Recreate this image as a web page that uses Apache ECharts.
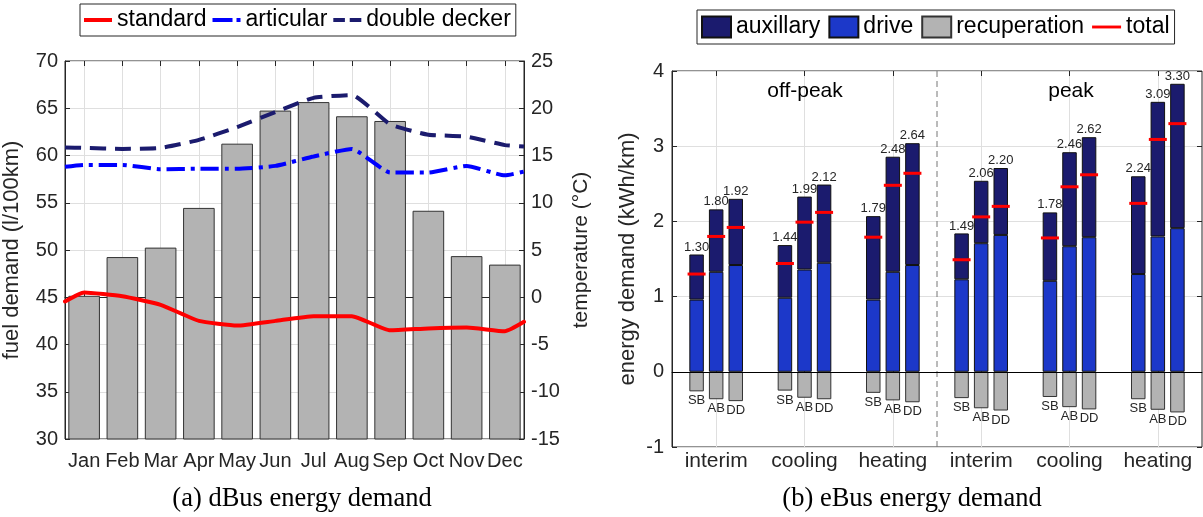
<!DOCTYPE html>
<html><head><meta charset="utf-8">
<script src="https://cdn.jsdelivr.net/npm/echarts@6/dist/echarts.min.js"></script>
<style>html,body{margin:0;padding:0;background:#fff}#c{width:1203px;height:517px}</style>
</head><body><div id="c"></div><script>
// ---------- (a) dBus data ----------
const months = ['Jan','Feb','Mar','Apr','May','Jun','Jul','Aug','Sep','Oct','Nov','Dec'];
const temperature = [0.1, 4.2, 5.2, 9.4, 16.2, 19.7, 20.6, 19.1, 18.6, 9.1, 4.3, 3.4];
const standard = [45.5, 45.1, 44.2, 42.5, 42.0, 42.5, 43.0, 43.0, 41.5, 41.7, 41.8, 41.4];
const standardEdges = [44.55, 42.4];
const articular = [59.0, 59.0, 58.55, 58.6, 58.6, 58.9, 59.9, 60.7, 58.2, 58.2, 58.9, 57.9];
const articularEdges = [58.8, 58.3];
const doubleDecker = [60.8, 60.7, 60.8, 61.65, 63.0, 64.6, 66.1, 66.4, 63.3, 62.2, 62.0, 61.1];
const doubleDeckerEdges = [60.85, 60.95];
const fuelTicks = {min: 30, max: 70, step: 5};
const tempTicks = {min: -15, max: 25, step: 5};

// ---------- (b) eBus data ----------
const periods = ['off-peak', 'peak'];
const groups = ['interim', 'cooling', 'heating'];
const busTypes = ['SB', 'AB', 'DD'];
const driveSB = [0.96, 0.985, 0.96, 1.23, 1.21, 1.30];
const driveAB = [1.33, 1.36, 1.33, 1.71, 1.67, 1.80];
const driveDD = [1.42, 1.45, 1.42, 1.82, 1.79, 1.91];
const auxSB = [0.60, 0.70, 1.11, 0.61, 0.91, 1.30];
const auxAB = [0.83, 0.97, 1.53, 0.83, 1.25, 1.79];
const auxDD = [0.88, 1.04, 1.62, 0.89, 1.33, 1.92];
const recupSB = [-0.26, -0.25, -0.28, -0.35, -0.335, -0.365];
const recupAB = [-0.365, -0.345, -0.38, -0.485, -0.47, -0.505];
const recupDD = [-0.39, -0.365, -0.405, -0.515, -0.50, -0.54];
const totalSB = [1.30, 1.44, 1.79, 1.49, 1.78, 2.24];
const totalAB = [1.80, 1.99, 2.48, 2.06, 2.46, 3.09];
const totalDD = [1.92, 2.12, 2.64, 2.20, 2.62, 3.30];
const energyTicks = {min: -1, max: 4, step: 1};

// ---------- build ----------
const categories = [];
periods.forEach(p => groups.forEach(g => categories.push(p + '|' + g)));
const dividerAt = groups.length;
const drive = {SB: driveSB, AB: driveAB, DD: driveDD};
const aux = {SB: auxSB, AB: auxAB, DD: auxDD};
const recup = {SB: recupSB, AB: recupAB, DD: recupDD};
const total = {SB: totalSB, AB: totalAB, DD: totalDD};

const FONT = '"Liberation Sans", Arial, Helvetica, sans-serif';
const SERIF = '"Liberation Serif", "Times New Roman", serif';
const AX = '#262626';
const GRIDC = '#dfdfdf';
const NAVY = '#1b1b6e';
const BLUE = '#1c38c9';
const GRAY = '#b3b3b3';

function edgeLine(vals, edges) {
  return [[0, edges[0]]].concat(vals.map((v, i) => [i + 0.5, v])).concat([[vals.length, edges[1]]]);
}

const tick = {show: true, inside: true, length: 5, interval: 0, lineStyle: {color: AX}};
const lbl = (m) => ({color: AX, fontSize: 20, fontFamily: FONT, margin: m});

const series = [];
series.push({
  type: 'custom', name: 'temperature', xAxisIndex: 0, yAxisIndex: 1, z: 1,
  data: temperature.map((t, i) => [i, t]),
  renderItem(params, api) {
    const i = api.value(0), t = api.value(1);
    const top = api.coord([i, t]);
    const base = api.coord([i, tempTicks.min]);
    const w = api.size([1, 0])[0] * 0.8;
    return {type: 'rect', shape: {x: top[0] - w / 2, y: top[1], width: w, height: base[1] - top[1]},
      style: {fill: GRAY, stroke: '#333', lineWidth: 1}};
  }
});
const lineCommon = {type: 'line', xAxisIndex: 1, yAxisIndex: 0, symbol: 'none', smooth: 0.15, z: 3};
series.push(Object.assign({}, lineCommon, {name: 'standard', data: edgeLine(standard, standardEdges),
  lineStyle: {color: '#ff0000', width: 4, cap: 'round'}, itemStyle: {color: '#ff0000'}}));
series.push(Object.assign({}, lineCommon, {name: 'articular', data: edgeLine(articular, articularEdges),
  lineStyle: {color: '#0000ff', width: 4, type: [18, 6, 4, 6]}, itemStyle: {color: '#0000ff'}}));
series.push(Object.assign({}, lineCommon, {name: 'double decker', data: edgeLine(doubleDecker, doubleDeckerEdges),
  lineStyle: {color: NAVY, width: 4, type: [16, 9]}, itemStyle: {color: NAVY}}));

const barCommon = {type: 'bar', xAxisIndex: 3, yAxisIndex: 2, barWidth: 14.5, barGap: '35%', z: 2};
busTypes.forEach((k, idx) => {
  const s = Object.assign({}, barCommon, {name: 'drive', stack: k, data: drive[k],
    itemStyle: {color: BLUE, borderColor: '#111', borderWidth: 1}});
  if (idx === 0) {
    s.markLine = {silent: true, symbol: 'none', label: {show: false}, animation: false,
      lineStyle: {color: '#000', width: 1, type: 'solid'}, data: [{yAxis: 0}]};
  }
  series.push(s);
});
busTypes.forEach(k => series.push(Object.assign({}, barCommon, {name: 'auxillary', stack: k, data: aux[k],
  itemStyle: {color: NAVY, borderColor: '#111', borderWidth: 1},
  label: {show: true, position: 'top', distance: 1, fontSize: 13, fontFamily: FONT, color: AX,
    formatter: p => total[k][p.dataIndex].toFixed(2)}})));
busTypes.forEach(k => series.push(Object.assign({}, barCommon, {name: 'recuperation', stack: k, data: recup[k],
  itemStyle: {color: GRAY, borderColor: '#333', borderWidth: 1},
  label: {show: true, position: 'bottom', distance: 3, fontSize: 13, fontFamily: FONT, color: AX, formatter: k}})));
busTypes.forEach(k => series.push({type: 'pictorialBar', name: 'total', xAxisIndex: 3, yAxisIndex: 2,
  barWidth: 14.5, barGap: '35%', data: total[k], symbol: 'rect', symbolSize: [18, 3], symbolPosition: 'end',
  symbolOffset: [0, '-50%'], itemStyle: {color: '#ff0000'}, z: 4}));
series.push({type: 'line', name: 'divider', xAxisIndex: 4, yAxisIndex: 2, symbol: 'none', z: 1, silent: true,
  data: [[dividerAt, energyTicks.min], [dividerAt, energyTicks.max]],
  lineStyle: {color: '#777', width: 1, type: [6, 4]}});

const legendText = {fontSize: 23, color: '#000', fontFamily: FONT, lineHeight: 26};
const option = {
  animation: false,
  backgroundColor: '#fff',
  textStyle: {fontFamily: FONT},
  grid: [
    {left: 64, top: 61, width: 460, height: 378, show: true, borderColor: AX, borderWidth: 1},
    {left: 672, top: 71, width: 530, height: 376, show: true, borderColor: AX, borderWidth: 1}
  ],
  legend: [
    {data: [{name: 'standard', icon: 'path://M0,0H28V4H0Z'},
            {name: 'articular', icon: 'path://M0,0H20V4H0Z M24,0H28V4H24Z'},
            {name: 'double decker', icon: 'path://M0,0H12V4H0Z M17,0H29V4H17Z'}],
      left: 80, top: 4, itemWidth: 28, itemHeight: 14, itemGap: 6,
      textStyle: legendText, borderColor: AX, borderWidth: 1,
      padding: [3, 5, 3, 4], backgroundColor: '#fff', selectedMode: false},
    {data: [{name: 'auxillary', icon: 'rect'}, {name: 'drive', icon: 'rect'}, {name: 'recuperation', icon: 'rect'},
            {name: 'total', icon: 'path://M0,0H30V3H0Z'}],
      left: 697, top: 10, itemWidth: 29, itemHeight: 21, itemGap: 8,
      textStyle: legendText, borderColor: AX, borderWidth: 1,
      padding: [4, 5, 4, 4], backgroundColor: '#fff', selectedMode: false}
  ],
  xAxis: [
    {type: 'category', gridIndex: 0, data: months, boundaryGap: true, position: 'bottom',
      axisLine: {lineStyle: {color: AX}}, axisTick: Object.assign({alignWithLabel: true}, tick),
      axisLabel: Object.assign(lbl(12), {interval: 0}),
      splitLine: {show: true, interval: 0, alignWithLabel: true, lineStyle: {color: GRIDC}}},
    {type: 'value', gridIndex: 0, min: 0, max: months.length, show: false},
    {type: 'category', gridIndex: 0, data: months, position: 'top', axisLine: {show: false},
      axisTick: Object.assign({alignWithLabel: true}, tick), axisLabel: {show: false}, splitLine: {show: false}},
    {type: 'category', gridIndex: 1, data: categories, boundaryGap: true, position: 'bottom',
      axisLine: {lineStyle: {color: AX}}, axisTick: Object.assign({alignWithLabel: true}, tick),
      axisLabel: Object.assign(lbl(4), {fontSize: 21, interval: 0, formatter: v => v.split('|')[1]}),
      splitLine: {show: true, interval: 0, alignWithLabel: true, lineStyle: {color: GRIDC}}},
    {type: 'value', gridIndex: 1, min: 0, max: categories.length, show: false},
    {type: 'category', gridIndex: 1, data: categories, position: 'top', axisLine: {show: false},
      axisTick: Object.assign({alignWithLabel: true}, tick), axisLabel: {show: false}, splitLine: {show: false}}
  ],
  yAxis: [
    {type: 'value', gridIndex: 0, position: 'left', min: fuelTicks.min, max: fuelTicks.max, interval: fuelTicks.step,
      axisLine: {show: true, lineStyle: {color: AX}}, axisTick: tick, axisLabel: lbl(7),
      splitLine: {show: true, lineStyle: {color: GRIDC}},
      name: 'fuel demand (l/100km)', nameLocation: 'middle', nameRotate: 90, nameGap: 42,
      nameTextStyle: {fontSize: 22, color: AX, fontFamily: FONT}},
    {type: 'value', gridIndex: 0, position: 'right', min: tempTicks.min, max: tempTicks.max, interval: tempTicks.step,
      axisLine: {show: true, lineStyle: {color: AX}}, axisTick: tick, axisLabel: lbl(7), splitLine: {show: false},
      name: 'temperature (°C)', nameLocation: 'middle', nameRotate: 90, nameGap: 47,
      nameTextStyle: {fontSize: 21, color: AX, fontFamily: FONT}},
    {type: 'value', gridIndex: 1, position: 'left', min: energyTicks.min, max: energyTicks.max, interval: energyTicks.step,
      axisLine: {show: true, lineStyle: {color: AX}}, axisTick: tick, axisLabel: lbl(8),
      splitLine: {show: true, lineStyle: {color: GRIDC}},
      name: 'energy demand (kWh/km)', nameLocation: 'middle', nameRotate: 90, nameGap: 33,
      nameTextStyle: {fontSize: 22, color: AX, fontFamily: FONT}},
    {type: 'value', gridIndex: 1, position: 'right', min: energyTicks.min, max: energyTicks.max, interval: energyTicks.step,
      axisLine: {show: false}, axisTick: tick, axisLabel: {show: false}, splitLine: {show: false}}
  ],
  graphic: [
    {type: 'text', x: 302, y: 499, silent: true, style: {text: '(a) dBus energy demand', font: '26.5px ' + SERIF,
      fill: '#000', align: 'center', verticalAlign: 'middle', textAlign: 'center', textVerticalAlign: 'middle'}},
    {type: 'text', x: 912, y: 499, silent: true, style: {text: '(b) eBus energy demand', font: '26.5px ' + SERIF,
      fill: '#000', align: 'center', verticalAlign: 'middle', textAlign: 'center', textVerticalAlign: 'middle'}},
    {type: 'text', x: 805, y: 91, silent: true, z: 10, style: {text: periods[0], font: '21px ' + FONT,
      fill: '#000', align: 'center', verticalAlign: 'middle', textAlign: 'center', textVerticalAlign: 'middle'}},
    {type: 'text', x: 1071, y: 91, silent: true, z: 10, style: {text: periods[1], font: '21px ' + FONT,
      fill: '#000', align: 'center', verticalAlign: 'middle', textAlign: 'center', textVerticalAlign: 'middle'}}
  ],
  series: series
};
const chart = echarts.init(document.getElementById('c'));
chart.setOption(option);
</script></body></html>
